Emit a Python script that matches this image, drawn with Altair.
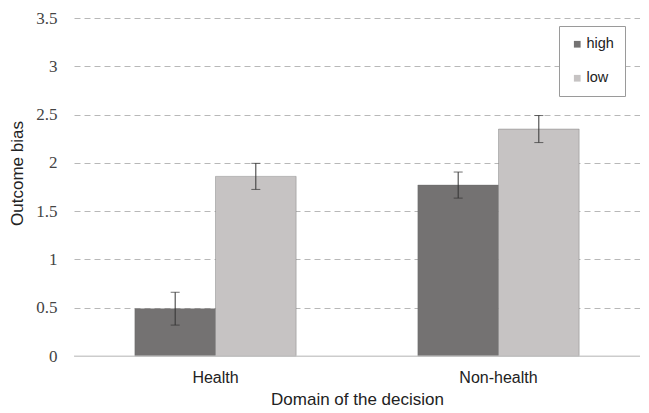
import altair as alt
import pandas as pd

domains = ["Health", "Health", "Non-health", "Non-health"]
levels = ["high", "low", "high", "low"]
means = [0.49, 1.86, 1.77, 2.35]
errs = [0.17, 0.135, 0.135, 0.14]

df = pd.DataFrame({"domain": domains, "level": levels, "mean": means, "err": errs})
df["lo"] = df["mean"] - df["err"]
df["hi"] = df["mean"] + df["err"]

SANS = "Liberation Sans"
SERIF = "Liberation Serif"

xenc = alt.X("domain:N", title="Domain  of the  decision",
             scale=alt.Scale(paddingInner=0.43, paddingOuter=0.215),
             axis=alt.Axis(labelAngle=0, labelFont=SANS, labelFontSize=16,
                           labelColor="#222", titleFont=SANS, titleFontSize=17,
                           titleColor="#222", titleFontWeight="normal", ticks=False,
                           domainColor="#cccccc", labelPadding=13, titlePadding=6))
xoff = alt.XOffset("level:N", scale=alt.Scale(paddingInner=0, paddingOuter=0))

color = alt.Color("level:N", scale=alt.Scale(domain=["high", "low"], range=["#747272", "#c6c3c3"]),
                  legend=alt.Legend(title=None, orient="none", legendX=485, legendY=8,
                                    symbolType="square", symbolSize=45, symbolStrokeWidth=0,
                                    labelFont=SANS, labelFontSize=14.5, labelColor="#222",
                                    rowPadding=19, padding=11, strokeColor="#9a9a9a",
                                    fillColor="white", labelOffset=2))

bars = alt.Chart(df).mark_bar(stroke="#666666", strokeWidth=0.6, strokeOpacity=0.6).encode(
    x=xenc, xOffset=xoff,
    y=alt.Y("mean:Q", title="Outcome bias",
            scale=alt.Scale(domain=[0, 3.5], nice=False),
            axis=alt.Axis(values=[0, 0.5, 1, 1.5, 2, 2.5, 3, 3.5], labelExpr="datum.value == 0 ? '0' : format(datum.value, '.1~f')",
                          labelFont=SERIF, labelFontSize=17, labelColor="#444",
                          titleFont=SANS, titleFontSize=17, titleColor="#222",
                          titleFontWeight="normal", ticks=False, domain=False, labelPadding=17,
                          gridDash=[6, 4], gridColor="#b8b8b8",
                          titleX=-57, titleY=155, titleBaseline="middle", titleAlign="center")),
    color=color,
)

rules = alt.Chart(df).mark_rule(color="#333333", strokeWidth=1).encode(
    x="domain:N", xOffset=xoff, y="lo:Q", y2="hi:Q")
capt = alt.Chart(df).mark_tick(color="#333333", thickness=1, size=9).encode(
    x="domain:N", xOffset=xoff, y="hi:Q")
capb = alt.Chart(df).mark_tick(color="#333333", thickness=1, size=9).encode(
    x="domain:N", xOffset=xoff, y="lo:Q")

base = alt.Chart(pd.DataFrame({"v": [0]})).mark_rule(color="#cccccc").encode(y="v:Q")

chart = alt.layer(bars, base, rules, capt, capb).properties(
    width=566, height=338,
    autosize=alt.AutoSizeParams(type="none"),
    padding={"left": 66, "top": 10, "right": 0, "bottom": 57},
    background="white",
).configure_view(stroke=None).configure_axisY(labelFont=SERIF)

chart.save("out.html", embed_options={"renderer": "svg", "actions": False})
